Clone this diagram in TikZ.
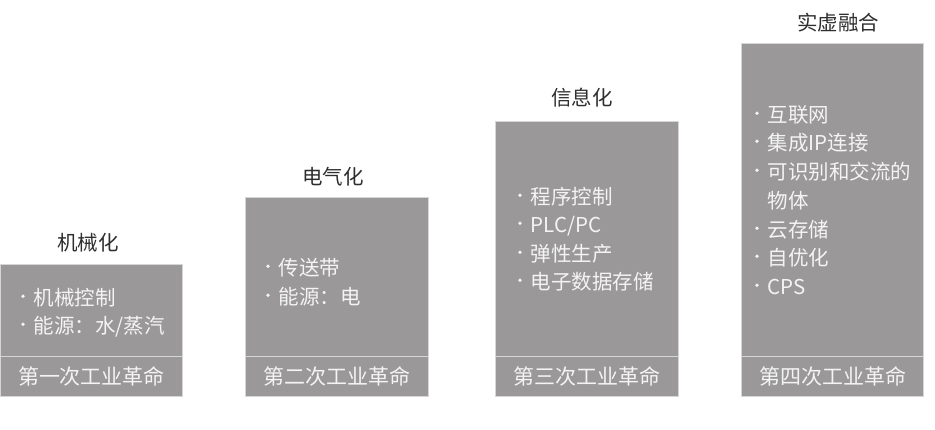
\documentclass[tikz,border=0pt]{standalone}
\usepackage{fontspec}
\setmainfont{Noto Sans CJK SC}
\newfontfamily\cjk{Noto Sans CJK SC}
\definecolor{boxfill}{HTML}{9A9899}
\definecolor{boxline}{HTML}{D6D6D6}
\definecolor{txtw}{HTML}{F4F4F4}
\definecolor{ttl}{HTML}{2E2E2E}
\newcommand{\bul}{\makebox[12.5pt][l]{\raisebox{0.36em}{\tikz\fill[txtw] (0,0) circle (1.8pt);}}}
\begin{document}
\begin{tikzpicture}[x=1pt,y=-1pt,
  panel/.style={draw=boxline,line width=1pt,fill=boxfill,inner sep=0pt,anchor=north west},
  foot/.style={text=txtw,font=\fontsize{21}{21}\selectfont,inner sep=0pt},
  item/.style={text=txtw,font=\fontsize{20.5}{20.5}\selectfont,inner sep=0pt,anchor=west,text height=0.8em,text depth=0.12em,yshift=-4pt},
  title/.style={text=ttl,font=\fontsize{20.5}{20.5}\selectfont,inner sep=0pt}]
\useasboundingbox[fill=white] (0,0) rectangle (935,429);
% panels
\node[panel,minimum width=182pt,minimum height=92pt] (p1) at (0,264) {};
\node[panel,minimum width=182pt,minimum height=40pt] (f1) at (0,356) {};
\node[panel,minimum width=183pt,minimum height=159pt] (p2) at (245,197) {};
\node[panel,minimum width=183pt,minimum height=40pt] (f2) at (245,356) {};
\node[panel,minimum width=183pt,minimum height=235pt] (p3) at (495,121) {};
\node[panel,minimum width=183pt,minimum height=40pt] (f3) at (495,356) {};
\node[panel,minimum width=182pt,minimum height=313pt] (p4) at (741,43) {};
\node[panel,minimum width=182pt,minimum height=40pt] (f4) at (741,356) {};
% footers
\node[foot] (t1) at (f1.center) {第一次工业革命};
\node[foot] (t2) at (f2.center) {第二次工业革命};
\node[foot] (t3) at (f3.center) {第三次工业革命};
\node[foot] (t4) at (f4.center) {第四次工业革命};
% titles
\node[title] (h1) at (88,243) {机械化};
\node[title] (h2) at (333,177) {电气化};
\node[title] (h3) at (582,98) {信息化};
\node[title] (h4) at (838,23) {实虚融合};
% items
\node[item] (a1) at (21,298) {\bul 机械控制};
\node[item] (a2) at (21,326) {\bul 能源：水/蒸汽};
\node[item] (b1) at (266,268) {\bul 传送带};
\node[item] (b2) at (266,297) {\bul 能源：电};
\node[item] (c1) at (518,197) {\bul 程序控制};
\node[item] (c2) at (518,225) {\bul PLC/PC};
\node[item] (c3) at (518,254) {\bul 弹性生产};
\node[item] (c4) at (518,282) {\bul 电子数据存储};
\node[item] (d1) at (755,115) {\bul 互联网};
\node[item] (d2) at (755,143) {\bul 集成IP连接};
\node[item] (d3) at (755,172) {\bul 可识别和交流的};
\node[item] (d3b) at (767.5,201) {物体};
\node[item] (d4) at (755,230) {\bul 云存储};
\node[item] (d5) at (755,258) {\bul 自优化};
\node[item] (d6) at (755,287) {\bul CPS};
\end{tikzpicture}
\end{document}
